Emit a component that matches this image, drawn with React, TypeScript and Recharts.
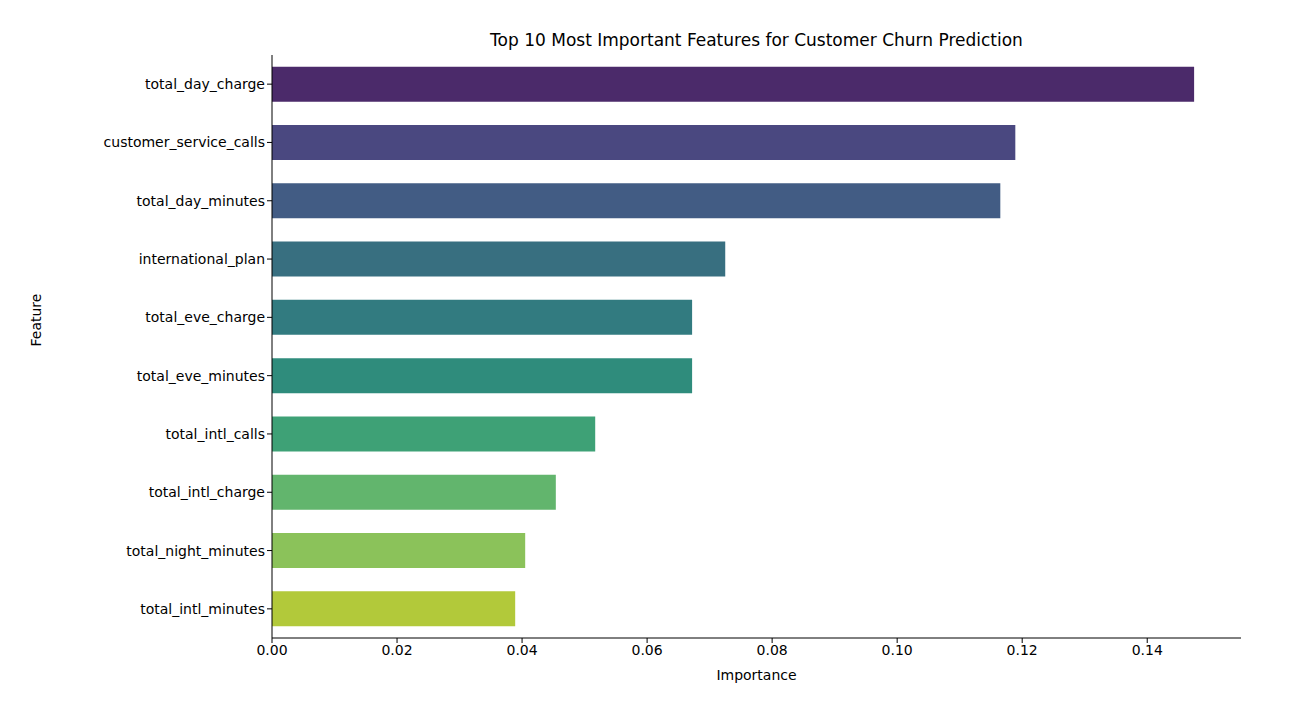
import { BarChart, Bar, XAxis, YAxis, Cell, Label } from 'recharts';

const features = [
  'total_day_charge', 'customer_service_calls', 'total_day_minutes', 'international_plan',
  'total_eve_charge', 'total_eve_minutes', 'total_intl_calls', 'total_intl_charge',
  'total_night_minutes', 'total_intl_minutes',
];
const importance = [0.1475, 0.1189, 0.1165, 0.0725, 0.0672, 0.0672, 0.0517, 0.0454, 0.0405, 0.0389];
const colors = ['#4b2a6a', '#4a4880', '#425c84', '#386f80', '#327b80', '#2f8c7c', '#3ea176', '#62b56d', '#8bc25a', '#b2c93a'];
const xTicks = [0, 0.02, 0.04, 0.06, 0.08, 0.1, 0.12, 0.14];

const data = features.map((f, i) => ({ feature: f, importance: importance[i] }));
const font = { fontFamily: 'DejaVu Sans', fontSize: 14, fill: '#000' };

export default function App() {
  return (
    <div style={{ position: 'relative', width: 1300, height: 709, fontFamily: 'DejaVu Sans' }}>
      <div style={{ position: 'absolute', top: 22, left: 264, width: 969, textAlign: 'center', fontSize: 17 }}>
        Top 10 Most Important Features for Customer Churn Prediction
      </div>
      <BarChart width={1300} height={709} data={data} layout="vertical"
        margin={{ top: 47, right: 67, bottom: 0, left: 0 }} barCategoryGap="20%">
        <XAxis type="number" domain={[0, 0.155]} ticks={xTicks} tickFormatter={(v) => v.toFixed(2)}
          stroke="#000" tick={font} height={79} tickSize={5}>
          <Label value="Importance" position="insideTop" offset={32} style={font} />
        </XAxis>
        <XAxis xAxisId="top" orientation="top" type="number" domain={[0, 0.155]} tick={false} tickLine={false} height={0} stroke="#000" />
        <YAxis type="category" dataKey="feature" width={264} stroke="#000" tick={font} tickSize={5}>
          <Label value="Feature" angle={-90} position="insideLeft" offset={28} style={font} />
        </YAxis>
        <YAxis yAxisId="right" orientation="right" type="category" dataKey="feature" tick={false} tickLine={false} width={0} stroke="#000" />
        <Bar dataKey="importance" isAnimationActive={false}>
          {data.map((d, i) => <Cell key={d.feature} fill={colors[i]} />)}
        </Bar>
      </BarChart>
    </div>
  );
}
